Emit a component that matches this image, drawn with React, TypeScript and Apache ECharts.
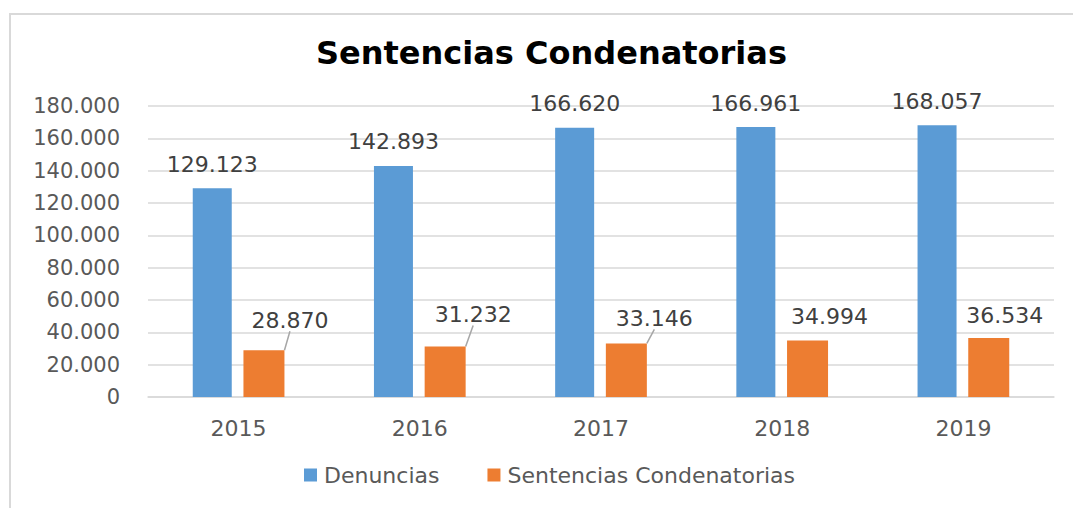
import React, { useEffect, useRef } from "react";
import * as echarts from "echarts";

const years = ["2015", "2016", "2017", "2018", "2019"];
const denuncias = [129123, 142893, 166620, 166961, 168057];
const sentencias = [28870, 31232, 33146, 34994, 36534];
const sentLabelShift = [
  [26, -14],
  [28, -16],
  [28, -9],
  [22, -8],
  [16, -6],
];
const sentLeader = [true, true, true, false, false];

const fmt = (v: number) => {
  const s = Math.round(v).toString();
  return s.replace(/\B(?=(\d{3})+(?!\d))/g, ".");
};

const FONT = "DejaVu Sans";
const TXT = "#595959";

export default function App() {
  const ref = useRef<HTMLDivElement>(null);
  useEffect(() => {
    if (!ref.current) return;
    const chart = echarts.init(ref.current, null, { renderer: "svg" });
    chart.setOption({
      animation: false,
      backgroundColor: "#ffffff",
      title: {
        text: "Sentencias Condenatorias",
        left: 311,
        top: 32,
        textStyle: {
          fontFamily: "DejaVu Sans",
          fontWeight: "bold",
          fontSize: 32,
          color: "#000000",
        },
      },
      graphic: [
        {
          type: "line",
          shape: { x1: 9, y1: 14, x2: 1073, y2: 14 },
          style: { stroke: "#D9D9D9", lineWidth: 2 },
        },
        {
          type: "line",
          shape: { x1: 10, y1: 14, x2: 10, y2: 508 },
          style: { stroke: "#D9D9D9", lineWidth: 2 },
        },
      ],
      legend: {
        bottom: 17,
        left: 299,
        itemWidth: 13,
        itemHeight: 13,
        itemGap: 48,
        icon: "rect",
        textStyle: {
          fontFamily: FONT,
          fontSize: 22,
          color: TXT,
          padding: [0, 0, 0, 2],
        },
        data: ["Denuncias", "Sentencias Condenatorias"],
      },
      grid: { left: 148, right: 19, top: 106, bottom: 111 },
      xAxis: {
        type: "category",
        data: years,
        axisTick: { show: false },
        axisLine: { lineStyle: { color: "#D9D9D9", width: 1.5 } },
        axisLabel: {
          fontFamily: FONT,
          fontSize: 22,
          color: TXT,
          margin: 20,
        },
      },
      yAxis: {
        type: "value",
        min: 0,
        max: 180000,
        interval: 20000,
        axisLine: { show: false },
        axisTick: { show: false },
        splitLine: { lineStyle: { color: "#D9D9D9", width: 1.5 } },
        axisLabel: {
          fontFamily: FONT,
          fontSize: 21,
          color: TXT,
          margin: 28,
          formatter: (v: number) => fmt(v),
        },
      },
      series: [
        {
          name: "Denuncias",
          type: "bar",
          data: denuncias,
          barWidth: 39,
          barGap: "30%",
          itemStyle: { color: "#5B9BD5" },
          label: {
            show: true,
            position: "top",
            distance: 13,
            fontFamily: FONT,
            fontSize: 22,
            color: "#404040",
            formatter: (p: any) => fmt(p.value),
          },
        },
        {
          name: "Sentencias Condenatorias",
          type: "bar",
          data: sentencias.map((v, i) => ({
            value: v,
            labelLine: { show: sentLeader[i] },
          })),
          barWidth: 41,
          itemStyle: { color: "#ED7D31" },
          label: {
            show: true,
            position: "top",
            distance: 5,
            fontFamily: FONT,
            fontSize: 22,
            color: "#404040",
            formatter: (p: any) => fmt(p.value),
          },
          labelLayout: (p: any) => ({
            dx: sentLabelShift[p.dataIndex][0],
            dy: sentLabelShift[p.dataIndex][1],
          }),
          labelLine: {
            show: true,
            lineStyle: { color: "#A6A6A6", width: 1.5 },
          },
        },
      ],
    });
    return () => chart.dispose();
  }, []);
  return (
    <div
      ref={ref}
      style={{ position: "fixed", left: 0, top: 0, width: 1073, height: 508 }}
    />
  );
}
